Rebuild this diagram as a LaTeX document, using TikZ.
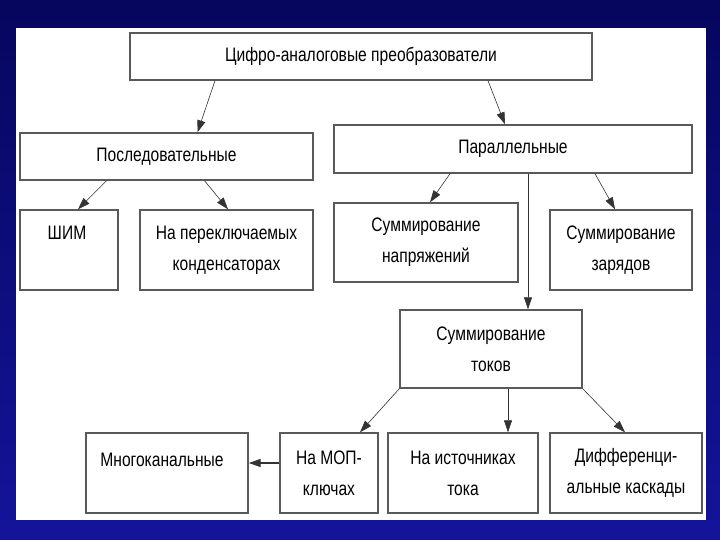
\documentclass[tikz,border=0pt]{standalone}
\usepackage{fontspec}
\setmainfont{Liberation Sans}[FakeStretch=0.8]
\usepackage{tikz}
\usepackage{xcolor}
\usetikzlibrary{arrows.meta}
\definecolor{navy}{HTML}{06065E}
\definecolor{navylow}{HTML}{14149A}
\definecolor{boxline}{HTML}{5A5A5A}
\begin{document}
\begin{tikzpicture}[x=1pt,y=-1pt,
  box/.style={draw=boxline,line width=1.4pt,fill=white,inner sep=0pt,align=center,
    font=\fontsize{19.5}{31}\selectfont},
  txt/.style={inner sep=0pt,font=\fontsize{19.5}{31}\selectfont},
  arr/.style={draw=black!80,line width=0.6pt,-{Triangle[length=12pt,width=8pt]}}]
\useasboundingbox (0,0) rectangle (720,540);
\shade[top color=navy,bottom color=navylow] (0,0) rectangle (720,540);
\fill[white] (16,28) rectangle (706,520);
\node[box,minimum width=462pt,minimum height=47pt] (dac) at (361,56.5) {Цифро-аналоговые преобразователи};
\node[box,minimum width=293pt,minimum height=47pt] (posl) at (166.5,156.5) {Последовательные};
\node[box,minimum width=358pt,minimum height=48pt] (par) at (513,149) {Параллельные};
\node[box,minimum width=98pt,minimum height=80pt] (shim) at (69,250) {};
\node[txt] (shimt) at (67,233) {ШИМ};
\node[box,minimum width=173pt,minimum height=80pt] (kond) at (226.5,250) {На переключаемых\\конденсаторах};
\node[box,minimum width=184pt,minimum height=79pt] (napr) at (426,242.5) {Суммирование\\напряжений};
\node[box,minimum width=142pt,minimum height=80pt] (zar) at (621,250) {Суммирование\\зарядов};
\node[box,minimum width=182pt,minimum height=78pt] (tok) at (491,349) {Суммирование\\токов};
\node[box,minimum width=162pt,minimum height=80pt] (mnog) at (167,473) {};
\node[txt] (mnogt) at (162,460) {Многоканальные};
\node[box,minimum width=98pt,minimum height=80pt] (mop) at (329,473) {На МОП-\\ключах};
\node[box,minimum width=150pt,minimum height=80pt] (ist) at (463,473) {На источниках\\тока};
\node[box,minimum width=152pt,minimum height=80pt] (dif) at (626,473) {Дифференци-\\альные каскады};
\draw[arr] ([xshift=-146pt]dac.south) -- ([xshift=31pt]posl.north);
\draw[arr] ([xshift=127pt]dac.south) -- ([xshift=-8pt]par.north);
\draw[arr] ([xshift=-60pt]posl.south) -- ([xshift=9pt]shim.north);
\draw[arr] ([xshift=38pt]posl.south) -- ([xshift=1.5pt]kond.north);
\draw[arr] ([xshift=-63pt]par.south) -- ([xshift=4pt]napr.north);
\draw[arr] ([xshift=82pt]par.south) -- ([xshift=-6pt]zar.north);
\draw[arr] ([xshift=15pt]par.south) -- ([xshift=37pt]tok.north);
\draw[arr] (tok.south west) -- ([xshift=31pt]mop.north);
\draw[arr] ([xshift=17pt]tok.south) -- ([xshift=45pt]ist.north);
\draw[arr] (tok.south east) -- ([xshift=-1pt]dif.north);
\draw[arr,line width=1.4pt] ([yshift=10pt]mop.west) -- ([yshift=10pt]mnog.east);
\end{tikzpicture}
\end{document}
